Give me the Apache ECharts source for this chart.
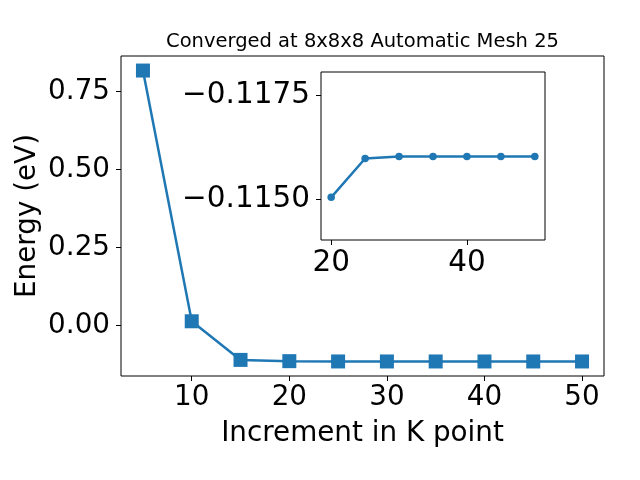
<!DOCTYPE html>
<html><head><meta charset="utf-8">
<script src="https://cdn.jsdelivr.net/npm/echarts@6/dist/echarts.min.js"></script>
<style>html,body{margin:0;padding:0;background:#fff}#c{width:640px;height:480px}</style>
</head><body><div id="c"></div>
<script>
var kpoints = [5, 10, 15, 20, 25, 30, 35, 40, 45, 50];
var energy = [0.818, 0.013, -0.111, -0.11505, -0.11598, -0.11603, -0.11603, -0.11603, -0.11603, -0.11603];
var insetK = [20, 25, 30, 35, 40, 45, 50];
var insetEnergy = [-0.11505, -0.11598, -0.11603, -0.11603, -0.11603, -0.11603, -0.11603];
var mainXTicks = [10, 20, 30, 40, 50];
var mainYTicks = [0, 0.25, 0.5, 0.75];
var insetXTicks = [20, 40];
var insetYTicks = [-0.1175, -0.1150];
var titleText = 'Converged at 8x8x8 Automatic Mesh 25';
var xName = 'Increment in K point';
var yName = 'Energy (eV)';

var FONT = 'DejaVu Sans';
var C = '#1f77b4';
var FS = 27.8, IFS = 29.5;
var pairs = kpoints.map(function(k,i){return [k, energy[i]];});
var ipairs = insetK.map(function(k,i){return [k, insetEnergy[i]];});
var fmtMinus = function(d){return function(v){var s = v.toFixed(d); return s.replace('-', '\u2212');};};
var tick = function(vals){return {show:true, inside:false, length:5, customValues:vals, lineStyle:{color:'#000', width:1}};};

var chart = echarts.init(document.getElementById('c'), null, {renderer:'canvas'});
chart.setOption({
  animation:false,
  backgroundColor:'#fff',
  title:{text:titleText, left:362.5, textAlign:'center', top:32, padding:0,
    textStyle:{fontFamily:FONT, fontSize:19.5, fontWeight:'normal', color:'#000'}},
  grid:[
    {left:121, right:36, top:56, bottom:104, show:true, borderColor:'#000', borderWidth:1, backgroundColor:'#fff'},
    {left:321, right:95, top:72, bottom:240, show:true, borderColor:'#000', borderWidth:1, backgroundColor:'#fff', z:5}
  ],
  xAxis:[
    {type:'value', gridIndex:0, min:2.75, max:52.25, splitLine:{show:false},
     axisLine:{show:false, onZero:false}, axisTick:tick(mainXTicks),
     axisLabel:{customValues:mainXTicks, fontFamily:FONT, fontSize:FS, color:'#000', margin:8},
     name:xName, nameLocation:'middle', nameGap:44, nameMoveOverlap:false, nameTextStyle:{fontFamily:FONT, fontSize:FS, color:'#000'}},
    {type:'value', gridIndex:1, min:18.5, max:51.5, splitLine:{show:false}, z:6,
     axisLine:{show:false, onZero:false}, axisTick:tick(insetXTicks),
     axisLabel:{customValues:insetXTicks, fontFamily:FONT, fontSize:IFS, color:'#000', margin:8}}
  ],
  yAxis:[
    {type:'value', gridIndex:0, min:-0.1627, max:0.8647, splitLine:{show:false},
     axisLine:{show:false, onZero:false}, axisTick:tick(mainYTicks),
     axisLabel:{customValues:mainYTicks, formatter:fmtMinus(2), fontFamily:FONT, fontSize:FS, color:'#000', margin:11},
     name:yName, nameLocation:'middle', nameGap:79, nameMoveOverlap:false, nameTextStyle:{fontFamily:FONT, fontSize:FS, color:'#000'}},
    {type:'value', gridIndex:1, min:-0.11805, max:-0.11403, inverse:true, splitLine:{show:false}, z:6,
     axisLine:{show:false, onZero:false}, axisTick:tick(insetYTicks),
     axisLabel:{customValues:insetYTicks, formatter:fmtMinus(4), fontFamily:FONT, fontSize:IFS, color:'#000', margin:11}}
  ],
  series:[
    {type:'line', xAxisIndex:0, yAxisIndex:0, data:pairs, symbol:'rect', symbolSize:14, showAllSymbol:true,
     lineStyle:{color:C, width:2.5}, itemStyle:{color:C}, z:2},
    {type:'line', xAxisIndex:1, yAxisIndex:1, data:ipairs, symbol:'circle', symbolSize:7.5, showAllSymbol:true,
     lineStyle:{color:C, width:2.5}, itemStyle:{color:C}, z:10}
  ]
});
</script></body></html>
